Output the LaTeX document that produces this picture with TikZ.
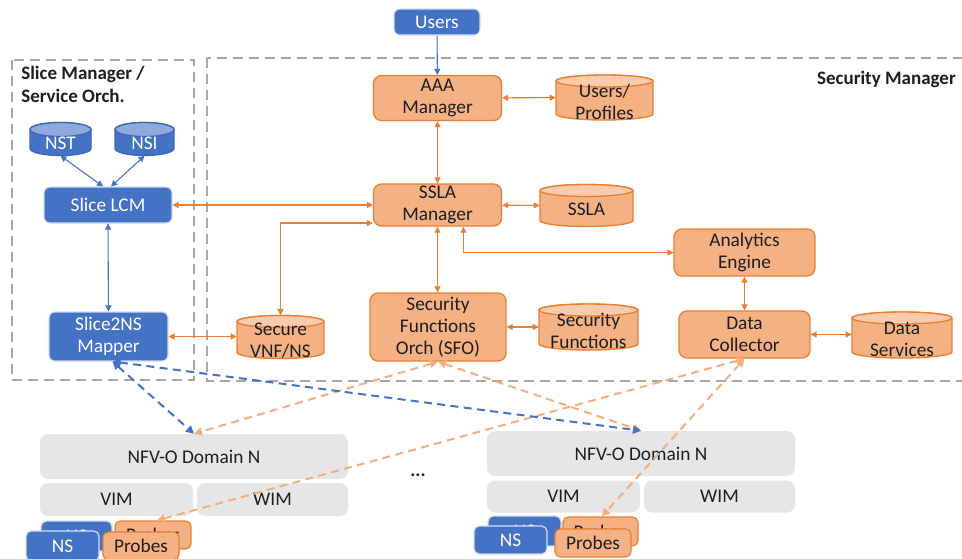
\documentclass[tikz,border=0pt]{standalone}
\usepackage{fontspec}
\setmainfont{Carlito}
\usetikzlibrary{arrows.meta}

\definecolor{ofill}{HTML}{F4B183}
\definecolor{oline}{HTML}{ED7D31}
\definecolor{otop}{HTML}{F8CBAD}
\definecolor{odash}{HTML}{F4AE80}
\definecolor{bfill}{HTML}{4472C4}
\definecolor{bline}{HTML}{3D68B8}
\definecolor{btop}{HTML}{8EA9DB}
\definecolor{gfill}{HTML}{E6E6E6}
\definecolor{frame}{HTML}{A6A6A6}
\definecolor{ink}{HTML}{1E1E1E}

% one pixel of the layout grid
\def\px{0.75pt}

% database cylinder: name, centre x, centre y (downwards), width, height,
% cap radius, colour family (o/b), label
\newcommand\dbcyl[8]{%
  \begin{scope}[shift={(#2,-#3)}]
    \path[draw=#7line, fill=#7fill, line width=1pt]
      ({-#4/2},{#5/2-#6}) -- ({-#4/2},{-#5/2+#6})
      arc[start angle=180, end angle=360, x radius={#4/2}, y radius=#6]
      -- ({#4/2},{#5/2-#6})
      arc[start angle=0, end angle=180, x radius={#4/2}, y radius=#6] -- cycle;
    \path[draw=#7line, fill=#7top, line width=1pt]
      (0,{#5/2-#6}) ellipse[x radius={#4/2}, y radius=#6];
  \end{scope}
  \node[inner sep=0, minimum width={#4*\px}, minimum height={#5*\px}] (#1) at (#2,-#3) {};
  \node[#7text] at (#2,{-#3-4}) {#8};
}

\tikzset{
  otext/.style={text=ink, align=center, inner sep=0},
  btext/.style={text=white, align=center, inner sep=0},
  obox/.style={draw=oline, fill=ofill, line width=1pt, rounded corners=6pt,
    text=ink, align=center, inner sep=0},
  bbox/.style={draw=white!75!bfill, fill=bfill, line width=0.8pt, rounded corners=4.5pt,
    text=white, align=center, inner sep=0},
  gbox/.style={fill=gfill, rounded corners=6pt, text=ink, align=center, inner sep=0},
  sbox/.style={rounded corners=4pt, inner sep=0, line width=0.9pt},
  oarr/.style={draw=oline, line width=0.8pt, {Triangle[length=4.5pt,width=4.5pt]}-{Triangle[length=4.5pt,width=4.5pt]}},
  barr/.style={draw=bfill, line width=0.8pt, {Triangle[length=4.5pt,width=4.5pt]}-{Triangle[length=4.5pt,width=4.5pt]}},
  bdash/.style={draw=bfill, line width=1.5pt, dash pattern=on 6pt off 4pt,
    {Triangle[length=6pt,width=6pt]}-{Triangle[length=6pt,width=6pt]}},
  odash/.style={draw=odash, line width=1.5pt, dash pattern=on 6pt off 4pt,
    {Triangle[length=6pt,width=6pt]}-{Triangle[length=6pt,width=6pt]}},
  region/.style={draw=frame, line width=1.4pt, dash pattern=on 7.5pt off 4.5pt},
  size/.style 2 args={minimum width={#1*\px}, minimum height={#2*\px}},
  heading/.style={font=\fontsize{14.25}{17.25}\selectfont\bfseries, text=ink, inner sep=0},
}

\begin{document}
\begin{tikzpicture}[x=0.75pt, y=0.75pt, font=\fontsize{14.5}{16.5}\selectfont]
\useasboundingbox (0,0) rectangle (962,-558);
\clip (0,0) rectangle (962,-558);

% dashed region frames
\draw[region] (12,-60) rectangle (194,-380);
\draw[region] (207,-58) rectangle (990,-381);
\node[heading, anchor=north west, align=left] (smtitle) at (21,-66) {Slice Manager /\\Service Orch.};
\node[heading, anchor=east] (sectitle) at (956,-79) {Security Manager};

% slice manager side
\node[bbox, size={86}{26}] (users) at (437,-22) {Users};
\dbcyl{nst}{60.5}{139}{61}{33}{7}{b}{NST}
\dbcyl{nsi}{144.5}{139}{59}{33}{7}{b}{NSI}
\node[bbox, size={128}{36}] (lcm) at (108,-205) {Slice LCM};
\node[bbox, size={119}{49}] (map) at (108.5,-336.5) {Slice2NS\\Mapper};

% security manager
\node[obox, size={128}{45}] (aaa) at (437.5,-98) {AAA\\Manager};
\dbcyl{upro}{604.5}{97.5}{97}{45}{6}{o}{Users/\\Profiles}
\node[obox, size={128}{42}] (ssla) at (437.5,-205) {SSLA\\Manager};
\dbcyl{sslad}{586.5}{205.5}{93}{42}{6}{o}{SSLA}
\node[obox, size={141}{47}] (ana) at (744.5,-252.5) {Analytics\\Engine};
\node[obox, size={136}{68}] (sfo) at (438,-327) {Security\\Functions\\Orch (SFO)};
\dbcyl{secf}{588.5}{327}{99}{46}{6}{o}{Security\\Functions}
\dbcyl{vnf}{280.5}{337}{87}{43}{6}{o}{Secure\\VNF/NS}
\node[obox, size={131}{47}] (dc) at (744.5,-334.5) {Data\\Collector};
\dbcyl{dsv}{902}{335}{100}{46}{6}{o}{Data\\Services}

% NFV-O domains
\node[gbox, size={308}{45}] (nfvL) at (194,-456.5) {NFV-O Domain N};
\node[gbox, size={153}{33}] (vimL) at (116.5,-499.5) {VIM};
\node[gbox, size={151}{33}] (wimL) at (272.5,-499.5) {WIM};
\node[gbox, size={308}{45}] (nfvR) at (641,-453.5) {NFV-O Domain N};
\node[gbox, size={153}{32}] (vimR) at (563.5,-496.5) {VIM};
\node[gbox, size={151}{32}] (wimR) at (719.5,-496.5) {WIM};
\node[heading] (dots) at (418,-475) {...};

% stacked NS / probe instances
\node[bbox, sbox, size={71}{30}] (nsLb) at (76.5,-536) {NS};
\node[obox, sbox, size={76}{28}] (prLb) at (153,-535) {Probes};
\node[bbox, sbox, size={73}{30}] (nsLf) at (62.5,-546) {NS};
\node[obox, sbox, size={76}{28}] (prLf) at (141,-546) {Probes};
\node[bbox, sbox, size={73}{30}] (nsRb) at (524.5,-531) {NS};
\node[obox, sbox, size={75}{29}] (prRb) at (600.5,-531.5) {Probes};
\node[bbox, sbox, size={73}{28}] (nsRf) at (510.5,-540) {NS};
\node[obox, sbox, size={76}{28}] (prRf) at (593,-543) {Probes};

% solid connectors
\draw[draw=bfill, line width=0.8pt, -{Triangle[length=4.5pt,width=4.5pt]}] (users) -- (aaa);
\draw[barr] (nst.south) -- ([xshift=-3.75pt]lcm.north);
\draw[barr] (nsi.south) -- ([xshift=2.25pt]lcm.north);
\draw[barr] (lcm) -- (map);
\draw[oarr] (aaa) -- (upro);
\draw[oarr] (aaa) -- (ssla);
\draw[oarr] (ssla) -- (sslad);
\draw[oarr] (lcm.east) -- (lcm.east -| ssla.west);
\draw[oarr] (vnf.north) |- ([yshift=-13.5pt]ssla.west);
\draw[oarr] (ssla.south) -- (ssla.south |- sfo.north);
\draw[oarr] ([xshift=19.5pt]ssla.south) |- (ana.west);
\draw[oarr] (ana) -- (dc);
\draw[oarr] (dc.east) -- (dc.east -| dsv.west);
\draw[oarr] (sfo.east) -- (sfo.east -| secf.west);
\draw[oarr] (map.east) -- (map.east -| vnf.west);

% dashed control / monitoring links
\coordinate (mapfoot) at ([xshift=3pt]map.south);
\draw[odash] (sfo.south) -- (nfvL.north);
\draw[odash] (sfo.south) -- (nfvR.north);
\draw[odash] (dc.south) -- ([xshift=3pt]prLb.north);
\draw[odash] (dc.south) -- ([xshift=1pt]prRb.north);
\draw[bdash] (mapfoot) -- (nfvL.north);
\draw[bdash] (mapfoot) -- (nfvR.north);
\end{tikzpicture}
\end{document}
